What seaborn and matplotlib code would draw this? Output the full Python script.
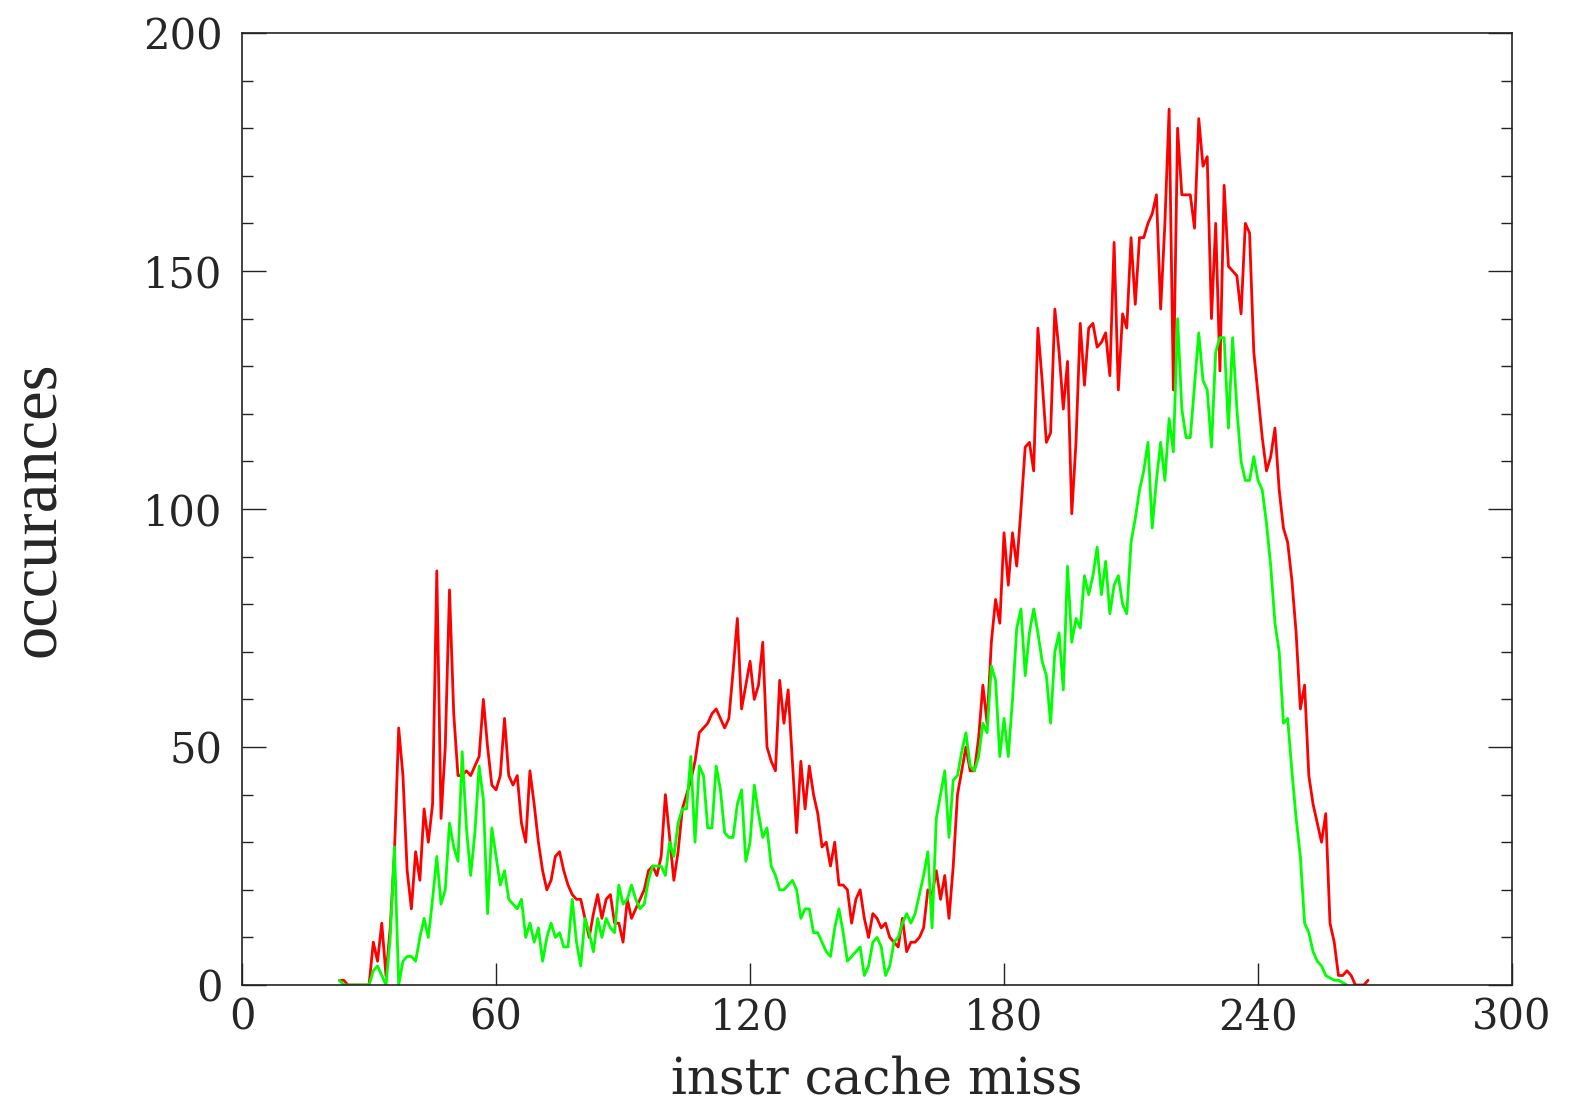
import numpy as np
import pandas as pd
import matplotlib
matplotlib.use("Agg")
import matplotlib.pyplot as plt
import seaborn as sns
from matplotlib.ticker import MultipleLocator

# ---- data ----
red_start, red_end = 23, 266
green_start, green_end = 23, 261

red_values = [
    1, 1, 0, 0, 0, 0, 0, 0, 9, 5, 13, 2, 12, 28, 54, 44, 24, 16, 28, 22,
    37, 30, 38, 87, 35, 50, 83, 57, 44, 44, 45, 44, 46, 48, 60, 50, 42, 41, 44, 56,
    44, 42, 44, 34, 30, 45, 38, 30, 24, 20, 22, 27, 28, 24, 21, 19, 18, 18,
    14, 10, 15, 19, 14, 18, 19, 13, 13, 9, 18, 14, 16, 18, 20, 24, 25, 23, 27, 40,
    31, 22, 28, 37, 40, 43, 47, 53, 54, 55, 57, 58, 56, 54, 56, 66, 77, 58, 63, 68,
    60, 63, 72, 50, 47, 45, 64, 55, 62, 47, 32, 47, 37, 46, 40, 36, 29, 30, 25, 30,
    21, 21, 20, 13, 18, 20, 14, 10, 15, 14, 12, 13, 10, 9, 8, 14, 7, 9, 9, 10,
    12, 20, 19, 24, 18, 23, 14, 25, 40, 45, 50, 45, 45, 52, 63, 55, 72, 81, 76, 95,
    84, 95, 88, 100, 113, 114, 108, 138, 127, 114, 116, 142, 133, 121, 131, 99, 114, 139, 126, 138,
    139, 134, 135, 137, 128, 156, 125, 141, 138, 157, 143, 157, 157, 160, 162, 166, 142, 160, 184, 125,
    180, 166, 166, 166, 159, 182, 172, 174, 140, 160, 129, 168, 151, 150, 149, 141, 160, 158, 133, 124,
    115, 108, 111, 117, 104, 96, 93, 85, 74, 58, 63, 44, 38, 34, 30, 36, 13, 9, 2, 2,
    3, 2, 0, 0, 0, 1,
]

green_values = [
    1, 0, 0, 0, 0, 0, 0, 0,
    3, 4, 2, 0, 10, 29, 0, 5, 6, 6,
    5, 10, 14, 10, 18, 27, 17, 20, 34, 29,
    26, 49, 33, 23, 32, 46, 39, 15, 33, 27,
    21, 24, 18, 17, 16, 18, 10, 13, 9, 12,
    5, 10, 13, 10, 11, 8, 8, 18, 9, 4,
    14, 11, 7, 14, 10, 14, 12, 11, 21, 17,
    18, 21, 18, 16, 17, 22, 25, 25, 25, 23,
    30, 27, 34, 37, 37, 48, 30, 46, 44, 33,
    33, 46, 41, 32, 31, 31, 38, 41, 26, 30,
    42, 36, 31, 33, 25, 23, 20, 20, 21, 22,
    20, 14, 16, 16, 11, 11, 9, 7, 6, 12,
    16, 11, 5, 6, 7, 8, 2, 4, 9, 10,
    8, 2, 4, 9, 10, 13, 15, 13, 15, 19,
    23, 28, 12, 35, 40, 45, 31, 43, 44, 49,
    53, 46, 45, 48, 55, 53, 67, 64, 48, 56,
    48, 60, 75, 79, 65, 74, 79, 74, 68, 65,
    55, 70, 74, 62, 88, 72, 77, 75, 86, 82,
    86, 92, 82, 89, 78, 84, 86, 80, 78, 93,
    98, 104, 108, 114, 96, 106, 114, 106, 119, 112,
    140, 121, 115, 115, 126, 137, 127, 125, 113, 133,
    136, 136, 117, 136, 121, 110, 106, 106, 111, 106,
    104, 97, 88, 76, 70, 55, 56, 45, 35, 27,
    13, 11, 7, 5, 4, 2, 1.5, 1, 1, 0.5, 0,
]

x_ticks = [0, 60, 120, 180, 240, 300]
y_ticks = [0, 50, 100, 150, 200]
x_label = "instr cache miss"
y_label = "occurances"

red_x = list(range(red_start, red_start + len(red_values)))
green_x = list(range(green_start, green_start + len(green_values)))

df = pd.concat([
    pd.DataFrame({"x": red_x, "y": red_values, "series": "red"}),
    pd.DataFrame({"x": green_x, "y": green_values, "series": "green"}),
], ignore_index=True)

sns.set_style("white")
plt.rcParams["font.family"] = ["DejaVu Serif"]

fig = plt.figure(figsize=(15.76, 11.10), dpi=100)
ax = fig.add_axes([0.1536, 0.1126, 0.8058, 0.8577])

sns.lineplot(data=df, x="x", y="y", hue="series",
             palette={"red": "#ff0000", "green": "#00ff00"},
             hue_order=["red", "green"], estimator=None, sort=False,
             linewidth=2.0, legend=False, ax=ax)

ax.set_xlim(0, 300)
ax.set_ylim(0, 200)
ax.set_xticks(x_ticks)
ax.set_yticks(y_ticks)
ax.yaxis.set_minor_locator(MultipleLocator(10))

for side in ["left", "right", "top", "bottom"]:
    ax.spines[side].set_visible(True)
    ax.spines[side].set_color("#222222")
    ax.spines[side].set_linewidth(1.2)

ax.tick_params(axis="y", which="major", direction="in", length=17, width=1.0,
               color="#222222", left=True, right=True, labelsize=30, pad=14)
ax.tick_params(axis="y", which="minor", direction="in", length=8, width=1.0,
               color="#222222", left=True, right=True)
ax.tick_params(axis="x", which="major", direction="in", length=16, width=1.0,
               color="#222222", bottom=True, top=False, labelsize=30, pad=8)

ax.set_xlabel(x_label, fontsize=36, labelpad=12)
ax.set_ylabel(y_label, fontsize=48, labelpad=54, family="Liberation Serif")
ax.grid(False)

fig.savefig("out.png", dpi=100, facecolor="white")
